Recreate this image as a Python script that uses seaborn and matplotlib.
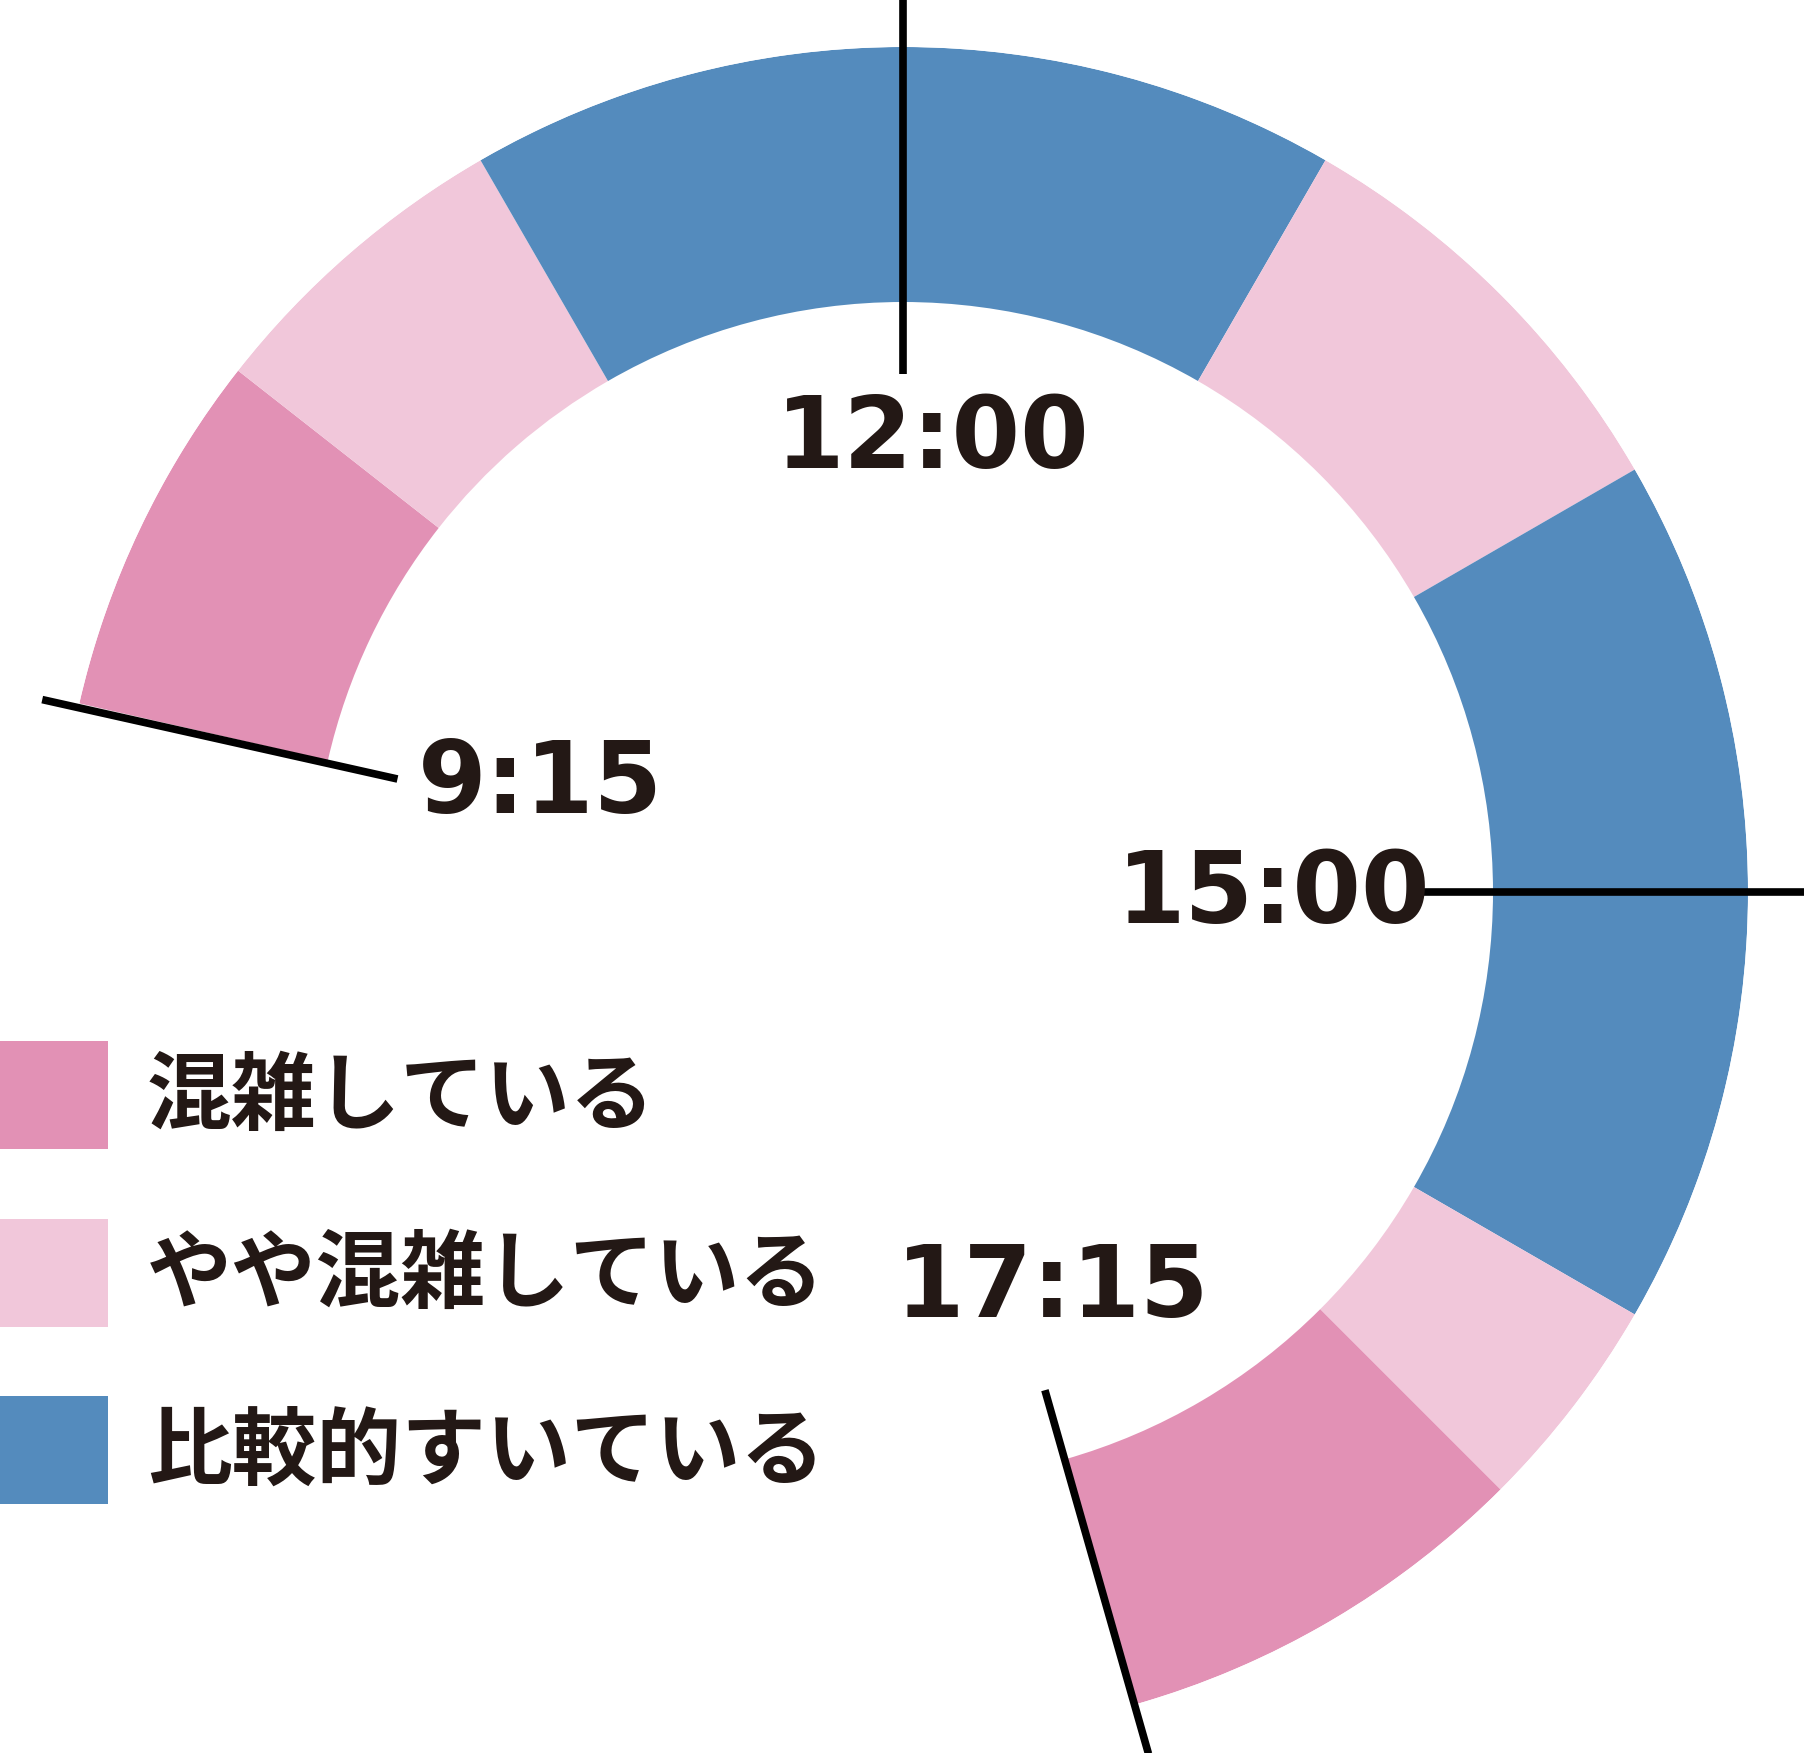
import numpy as np
import matplotlib
matplotlib.use("Agg")
import matplotlib.pyplot as plt
from matplotlib.patches import Rectangle
import seaborn as sns

# Time blocks on a 12 hour clock face (hours)
seg_start = [9.43, 10.27, 11.0, 13.0, 14.0, 16.0, 16.5]
seg_end = [10.27, 11.0, 13.0, 14.0, 16.0, 16.5, 17.47]
seg_level = ["混雑している", "やや混雑している", "比較的すいている",
             "やや混雑している", "比較的すいている", "やや混雑している",
             "混雑している"]

# Marked times: label and where the line sits on the clock
tick_labels = ["9:15", "12:00", "15:00", "17:15"]
tick_hours = [9.42, 12.0, 15.0, 17.47]

legend_labels = ["混雑している", "やや混雑している", "比較的すいている"]
legend_colors = ["#E291B5", "#F1C7DA", "#548BBD"]

sns.set_theme(style="white")
plt.rcParams["font.family"] = ["Noto Sans CJK JP", "DejaVu Sans"]
palette = dict(zip(legend_labels, legend_colors))
ink = "#231815"

W, H = 1804, 1753
cx, cy = 903, 892
r_out, r_in = 845, 590

fig = plt.figure(figsize=(W / 100, H / 100), dpi=100)
ax = fig.add_axes([(cx - r_out) / W, (H - cy - r_out) / H,
                   2 * r_out / W, 2 * r_out / H], projection="polar")
ax.set_theta_zero_location("N")
ax.set_theta_direction(-1)
ax.set_ylim(0, r_out)
ax.axis("off")


def to_rad(h):
    return (h % 12) / 12 * 2 * np.pi


for s, e, lvl in zip(seg_start, seg_end, seg_level):
    ax.bar(to_rad(s), r_out - r_in, width=(e - s) / 12 * 2 * np.pi,
           bottom=r_in, align="edge", color=palette[lvl], linewidth=0)

line_end = {"9:15": 882, "12:00": 900, "15:00": 905, "17:15": 896}
for lab, h in zip(tick_labels, tick_hours):
    t = to_rad(h)
    ax.plot([t, t], [518, line_end[lab]], color="black", lw=5.5,
            clip_on=False, solid_capstyle="butt", zorder=5)

# overlay in pixel coordinates for texts and legend
ov = fig.add_axes([0, 0, 1, 1])
ov.set_xlim(0, W)
ov.set_ylim(H, 0)
ov.axis("off")
ov.patch.set_alpha(0)

label_pos = {"9:15": (540, 785), "12:00": (933, 440),
             "15:00": (1274, 895), "17:15": (1053, 1289)}
for lab in tick_labels:
    x, y = label_pos[lab]
    ov.text(x, y, lab, ha="center", va="center", fontsize=71,
            fontweight="bold", color=ink, family="DejaVu Sans")

for i, (lab, col) in enumerate(zip(legend_labels, legend_colors)):
    y0 = 1041 + i * 177.5
    ov.add_patch(Rectangle((0, y0), 108, 108, color=col, lw=0))
    ov.text(147, y0 + 57, lab, ha="left", va="center", fontsize=61,
            fontweight="bold", color=ink)

fig.savefig("out.png", dpi=100)
